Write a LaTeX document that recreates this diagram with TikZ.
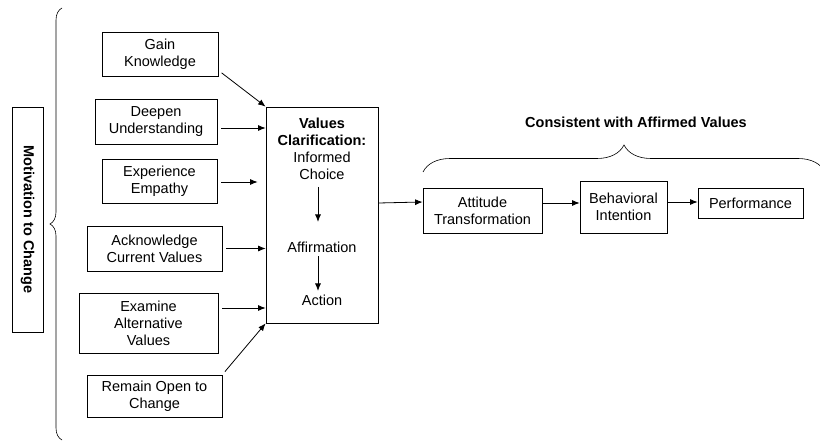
\documentclass[tikz,border=0pt]{standalone}
\usepackage{fontspec}
\setmainfont{Liberation Sans}
\usepackage{tikz}
\usetikzlibrary{positioning}
\usetikzlibrary{calc}
\usetikzlibrary{arrows.meta}
\usetikzlibrary{decorations.pathreplacing}

\begin{document}
\begin{tikzpicture}[x=1pt, y=-1pt, node distance=53pt, line width=0.8pt,
        font=\fontsize{14.5pt}{17pt}\selectfont,
        >={Latex[length=7.5pt,width=6pt]},
        stepbox/.style={draw, align=center, inner sep=2pt},
        link/.style={->},
        feed/.style={->, shorten <=4pt},
        curly/.style={decorate, line width=0.6pt}]
            \useasboundingbox (0,0) rectangle (820,441);
            \clip (0,0) rectangle (820,441);
            \node[stepbox, rotate=-90, minimum width=225pt, minimum height=31pt] (motivation) at (27.5,219.5) {\textbf{Motivation to Change}};
            \draw[curly, decoration={brace, amplitude=12pt}] (62,440) -- (62,8);
            \node[stepbox, minimum width=116pt, minimum height=44pt] (gain) at (160,54) {Gain\\Knowledge};
            \node[stepbox, minimum width=122pt, minimum height=45pt] (deepen) at (156,121.5) {Deepen\\Understanding};
            \node[stepbox, minimum width=115pt, minimum height=44pt] (empathy) at (159.5,181) {Experience\\Empathy};
            \node[stepbox, minimum width=135pt, minimum height=45pt] (acknowledge) at (154.5,248.5) {Acknowledge\\Current Values};
            \node[stepbox, minimum width=139pt, minimum height=60pt] (examine) at (148.5,323) {Examine\\Alternative\\Values};
            \node[stepbox, minimum width=135pt, minimum height=42pt] (remain) at (154.5,396) {Remain Open to\\Change};
            \node[stepbox, minimum width=112pt, minimum height=216pt] (values) at (322,215) {};
            \node[align=center, anchor=south] (choice) at (322,183) {\textbf{Values}\\\textbf{Clarification:}\\Informed\\Choice};
            \node (affirm) at (322,247) {Affirmation};
            \node (action) [below of=affirm] {Action};
            \draw[feed] ([xshift=-4pt]choice.south) -- ([xshift=-4pt]affirm.north) [shorten >=16pt];
            \draw[link] ([xshift=-4pt]affirm.south) -- ([xshift=-4pt]action.north);
            \draw[feed] ([yshift=6pt]gain.south east) -- (values.north west);
            \draw[feed] ([yshift=-6.5pt]deepen.east) -- ($(values.west |- deepen.east)+(0,6.5)$);
            \draw[feed, shorten >=8pt] ([yshift=-1pt]empathy.east) -- ($(values.west |- empathy.east)+(0,1)$);
            \draw[feed] (acknowledge.east) -- (values.west |- acknowledge.east);
            \draw[feed] ([yshift=15pt]examine.east) -- ($(values.west |- examine.east)+(0,-15)$);
            \draw[feed] (remain.north east) -- (values.south west);
            \node (consistent) at (636,122) {\textbf{Consistent with Affirmed Values}};
            \draw[curly, decoration={brace, amplitude=27pt}] (423,172) -- (825,172);
            \node[stepbox, minimum width=119pt, minimum height=45pt] (attitude) at (482.5,210.5) {Attitude\\Transformation};
            \node[stepbox, minimum width=87pt, minimum height=52pt] (behavioral) at (623.5,207) {Behavioral\\Intention};
            \node[stepbox, minimum width=105pt, minimum height=30pt] (performance) at (750.5,203) {Performance};
            \draw[link] ([yshift=12pt]values.east) -- ([yshift=8.5pt]attitude.west);
            \draw[link] ([yshift=7.5pt]attitude.east) -- ([yshift=4pt]behavioral.west);
            \draw[link] ([yshift=5pt]behavioral.east) -- ([yshift=1pt]performance.west);
        \end{tikzpicture}
\end{document}
